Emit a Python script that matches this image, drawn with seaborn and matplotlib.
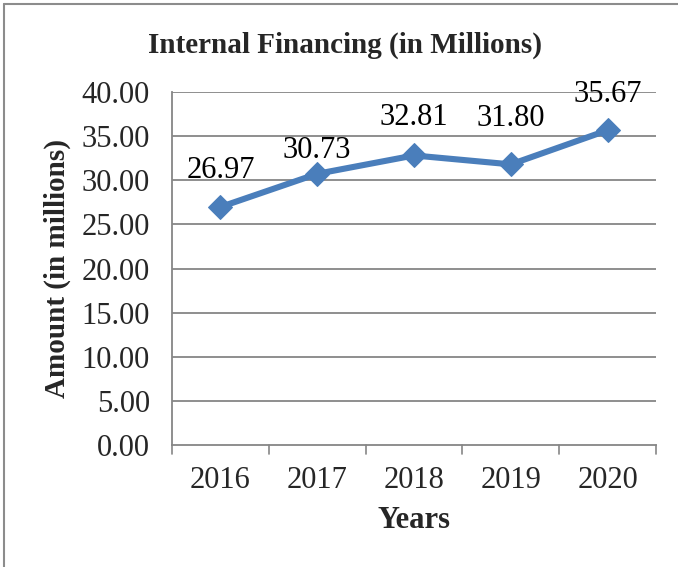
import matplotlib
matplotlib.use("Agg")
import matplotlib.pyplot as plt
import seaborn as sns
import pandas as pd
from matplotlib.lines import Line2D
from matplotlib.transforms import blended_transform_factory

years = ["2016", "2017", "2018", "2019", "2020"]
amounts = [26.97, 30.73, 32.81, 31.80, 35.67]
y_ticks = [0, 5, 10, 15, 20, 25, 30, 35, 40]

df = pd.DataFrame({"Years": years, "Amount": amounts})

sns.set_theme(style="white")
plt.rcParams["font.family"] = ["Liberation Serif", "DejaVu Serif"]

W, H = 678, 567
fig = plt.figure(figsize=(W / 100, H / 100), dpi=100)
ax = fig.add_axes([172 / W, 1 - 445 / H, (656 - 172) / W, (445 - 92) / H])

grid_col = "#868686"
blue = "#4A7EBB"
fs = 22

sns.lineplot(data=df, x="Years", y="Amount", ax=ax, color=blue, linewidth=4.4,
             marker="D", markersize=12, markeredgecolor=blue, sort=False, zorder=3)

ax.set_xlim(-0.5, len(years) - 0.5)
ax.set_ylim(0, 40)
ax.set_yticks(y_ticks)
ax.set_yticklabels([f"{v:.2f}" for v in y_ticks], fontsize=fs)
ax.set_xticks(range(len(years)))
ax.set_xticklabels(years, fontsize=fs)
ax.tick_params(axis="x", length=0, pad=15)
ax.tick_params(axis="y", length=6, width=1.2, color=grid_col, direction="out", pad=10)

# category boundary ticks below the x axis
tr = blended_transform_factory(ax.transData, ax.transAxes)
for i in range(len(years) + 1):
    b = i - 0.5
    ax.add_line(Line2D([b, b], [0, -0.025], transform=tr, clip_on=False,
                       color=grid_col, lw=1.2))

for v in y_ticks[1:]:
    ax.axhline(v, color=grid_col, lw=1.3, zorder=1)

for s in ["top", "right"]:
    ax.spines[s].set_visible(False)
for s in ["left", "bottom"]:
    ax.spines[s].set_color(grid_col)
    ax.spines[s].set_linewidth(1.3)

label_offsets = [26, 17, 27, 33, 26]
for i, (v, off) in enumerate(zip(amounts, label_offsets)):
    ax.annotate(f"{v:.2f}", (i, v), xytext=(0, off), textcoords="offset points",
                ha="center", va="center", fontsize=fs, color="black", zorder=4)

ax.set_xlabel("Years", fontsize=fs, fontweight="bold", labelpad=8)
ax.set_ylabel("Amount (in millions)", fontsize=21, fontweight="bold")
ax.yaxis.set_label_coords(-(172 - 71) / (656 - 172), 0.5)
fig.text(345 / W, 1 - 45 / H, "Internal Financing (in Millions)", ha="center",
         va="center", fontsize=21, fontweight="bold")

# outer frame
fig.add_artist(Line2D([4 / W, 4 / W], [0, 1 - 4 / H], transform=fig.transFigure,
                      color="#8c8c8c", lw=1.5))
fig.add_artist(Line2D([4 / W, 1], [1 - 4 / H, 1 - 4 / H], transform=fig.transFigure,
                      color="#8c8c8c", lw=1.5))

fig.savefig("out.png", dpi=100)
